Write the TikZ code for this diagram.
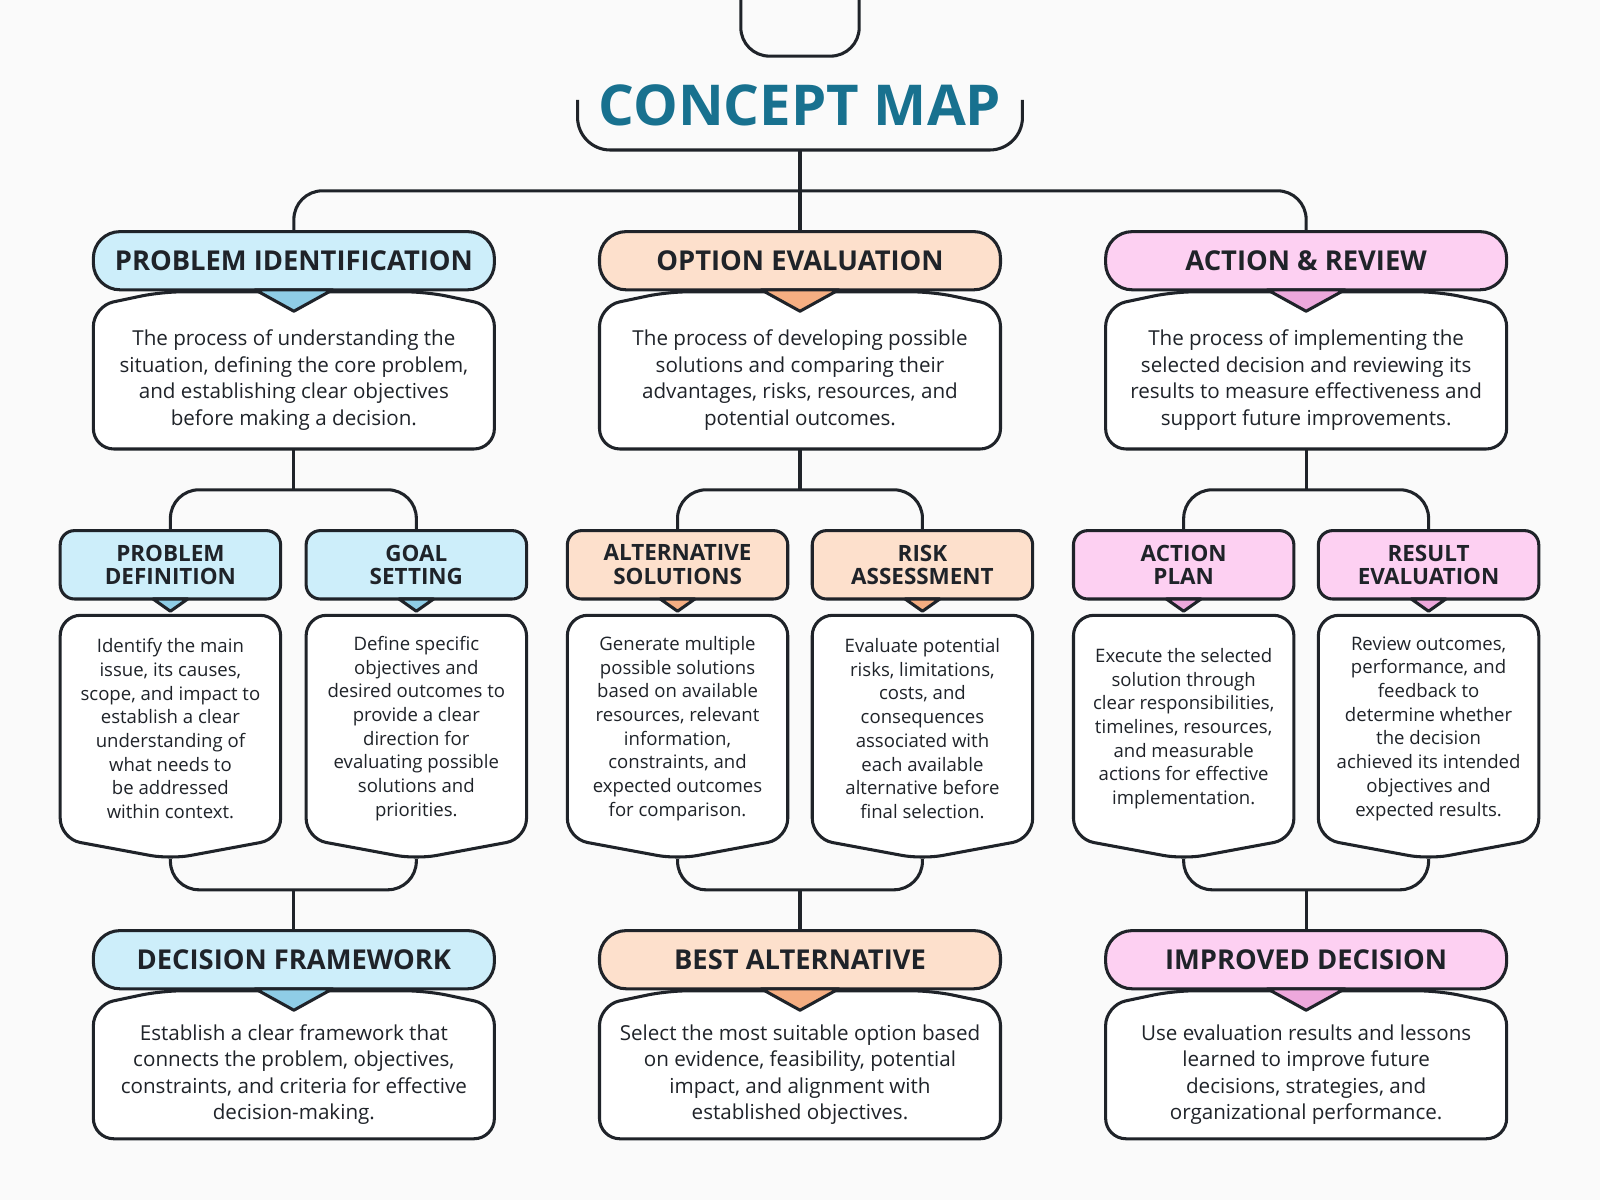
\documentclass[tikz,border=0pt]{standalone}
\usepackage{fontspec}
\setmainfont{Open Sans}
\begin{document}
\definecolor{ink}{HTML}{1F2329}
\definecolor{ttl}{HTML}{18718F}
\definecolor{bF}{HTML}{CDEEFA}\definecolor{bD}{HTML}{8FCDE6}
\definecolor{oF}{HTML}{FDE0CC}\definecolor{oD}{HTML}{F5AE82}
\definecolor{pF}{HTML}{FDD0F2}\definecolor{pD}{HTML}{EDA8DC}
\begin{tikzpicture}[x=0.5pt,y=-0.5pt,
  ln/.style={draw=ink,line width=1.5pt,rounded corners=8pt},
  hd/.style={draw=ink,line width=1.5pt,rounded corners=13pt,minimum width=196.5pt,minimum height=28.5pt,font=\bfseries\fontsize{13.4}{14}\selectfont,text=ink,inner sep=0pt},
  sh/.style={draw=ink,line width=1.5pt,rounded corners=7pt,minimum width=108pt,minimum height=33.5pt,font=\bfseries\fontsize{11}{11.5}\selectfont,text=ink,align=center,inner sep=0pt},
  card/.style={draw=ink,fill=white,line width=1.5pt,rounded corners=10pt},
  bt/.style={align=center,text=ink,font=\fontsize{10.1}{13}\selectfont,inner sep=0pt},
  st/.style={align=center,text=ink,font=\fontsize{9.1}{11.6}\selectfont,inner sep=0pt}]
\fill[fill={rgb,255:red,250;green,250;blue,250}] (0,0) rectangle (1568,1176);
\useasboundingbox (0,0) rectangle (1568,1176);
% title
\draw[ln,rounded corners=14pt] (726,-5) -- (726,55) -- (842,55) -- (842,-5);
\draw[ln,rounded corners=16pt] (566,98) -- (566,147) -- (1002,147) -- (1002,98);
\node[text=ttl,font=\bfseries\fontsize{27.6}{30}\selectfont] (title) at (784,103) {CONCEPT MAP};
\coordinate (tb) at (784,147);
\coordinate (tj) at (784,187);
% big card macro
\newcommand\bigcard[8]{%
  \node[hd,fill=#5] (#1) at (#2,#3+28.5) {#7};
  \draw[card] (#2-196.5,#4) -- (#2-196.5,#3+73) -- (#2-130,#3+59) -- (#2+130,#3+59) -- (#2+196.5,#3+73) -- (#2+196.5,#4) -- cycle;
  \draw[draw=ink,fill=#6,line width=1.5pt,line join=round] (#2-38,#3+57) -- (#2+38,#3+57) -- (#2,#3+78) -- cycle;
  \node[bt] (#1d) at (#2,{(#3+78+#4)/2}) {#8};
  \coordinate (#1t) at (#2,#3);
  \coordinate (#1b) at (#2,#4);
}
\newcommand\smallcard[6]{%
  \node[sh,fill=#3] (#1) at (#2,553.5) {#5};
  \draw[card] (#2-108,822) -- (#2-108,603) -- (#2+108,603) -- (#2+108,822) -- (#2,842) -- cycle;
  \draw[draw=ink,fill=#4,line width=1.5pt,line join=round] (#2-17,587) -- (#2+17,587) -- (#2,599) -- cycle;
  \node[st] (#1d) at (#2,714) {#6};
  \coordinate (#1t) at (#2,520);
  \coordinate (#1b) at (#2,842);
}
\bigcard{pi}{288}{227}{440}{bF}{bD}{PROBLEM IDENTIFICATION}{The process of understanding the\\situation, defining the core problem,\\and establishing clear objectives\\before making a decision.}
\bigcard{oe}{784}{227}{440}{oF}{oD}{OPTION EVALUATION}{The process of developing possible\\solutions and comparing their\\advantages, risks, resources, and\\potential outcomes.}
\bigcard{ar}{1280}{227}{440}{pF}{pD}{ACTION \& REVIEW}{The process of implementing the\\selected decision and reviewing its\\results to measure effectiveness and\\support future improvements.}
\bigcard{df}{288}{912}{1116}{bF}{bD}{DECISION FRAMEWORK}{Establish a clear framework that\\connects the problem, objectives,\\constraints, and criteria for effective\\decision-making.}
\bigcard{ba}{784}{912}{1116}{oF}{oD}{BEST ALTERNATIVE}{Select the most suitable option based\\on evidence, feasibility, potential\\impact, and alignment with\\established objectives.}
\bigcard{id}{1280}{912}{1116}{pF}{pD}{IMPROVED DECISION}{Use evaluation results and lessons\\learned to improve future\\decisions, strategies, and\\organizational performance.}
\smallcard{pd}{167}{bF}{bD}{PROBLEM\\DEFINITION}{Identify the main\\issue, its causes,\\scope, and impact to\\establish a clear\\understanding of\\what needs to\\be addressed\\within context.}
\smallcard{gs}{408}{bF}{bD}{GOAL\\SETTING}{Define specific\\objectives and\\desired outcomes to\\provide a clear\\direction for\\evaluating possible\\solutions and\\priorities.}
\smallcard{as}{664}{oF}{oD}{ALTERNATIVE\\SOLUTIONS}{Generate multiple\\possible solutions\\based on available\\resources, relevant\\information,\\constraints, and\\expected outcomes\\for comparison.}
\smallcard{ra}{904}{oF}{oD}{RISK\\ASSESSMENT}{Evaluate potential\\risks, limitations,\\costs, and\\consequences\\associated with\\each available\\alternative before\\final selection.}
\smallcard{ap}{1160}{pF}{pD}{ACTION\\PLAN}{Execute the selected\\solution through\\clear responsibilities,\\timelines, resources,\\and measurable\\actions for effective\\implementation.}
\smallcard{re}{1400}{pF}{pD}{RESULT\\EVALUATION}{Review outcomes,\\performance, and\\feedback to\\determine whether\\the decision\\achieved its intended\\objectives and\\expected results.}
% connectors
\draw[ln] (tb) -- (tj);
\draw[ln,rounded corners=14pt] (pit) -- (pit|-tj) -- (art|-tj) -- (art);
\draw[ln] (tj) -- (oet);
\newcommand\fork[4]{%
  \coordinate (#1m) at (#1b|-0,480);
  \draw[ln] (#1b) -- (#1m);
  \draw[ln,rounded corners=14pt] (#2t) -- (#2t|-#1m) -- (#3t|-#1m) -- (#3t);
  \coordinate (#1n) at (#1b|-0,872);
  \draw[ln,rounded corners=14pt] (#2b) -- (#2b|-#1n) -- (#3b|-#1n) -- (#3b);
  \draw[ln] (#1n) -- (#4t);
}
\fork{pi}{pd}{gs}{df}
\fork{oe}{as}{ra}{ba}
\fork{ar}{ap}{re}{id}
\end{tikzpicture}
\end{document}
